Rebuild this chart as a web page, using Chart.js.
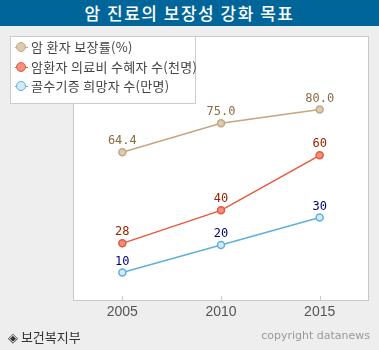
<!DOCTYPE html>
<html>
<head>
<meta charset="utf-8">
<script src="https://cdn.jsdelivr.net/npm/chart.js@4/dist/chart.umd.min.js"></script>
<style>
  body { margin: 0; background: #eeeeee; font-family: "Noto Sans CJK KR", sans-serif; }
  #wrap { position: relative; width: 379px; height: 350px; overflow: hidden; }
  #title { position: absolute; left: 0; top: 0; width: 379px; height: 26px; background: #006699;
           color: #fff; font-size: 17px; font-weight: 500; text-align: center; line-height: 26px; letter-spacing: 1.5px; }
  #chart { position: absolute; left: 0; top: 0; }
  #legend { position: absolute; left: 10px; top: 36px; width: 186px; height: 68px; background: #fff;
            border: 1px solid #cccccc; box-sizing: border-box; }
  .item { position: absolute; left: 0; height: 18px; font-size: 13px; color: #444; line-height: 18px; white-space: nowrap; letter-spacing: 0.3px; }
  .mk { position: absolute; left: 4px; top: 9px; width: 13px; height: 0; border-top: 1px solid; }
  .dot { position: absolute; left: 1px; top: -6px; width: 8px; height: 8px; border-radius: 50%; border: 1.5px solid; }
  .txt { position: absolute; left: 20px; top: 0; }
  #src { position: absolute; left: 8px; top: 327px; font-size: 13px; color: #333; }
  #copy { position: absolute; right: 9px; top: 329px; font-size: 11px; color: #999; font-family: "DejaVu Sans", sans-serif; }
</style>
</head>
<body>
<div id="wrap">
  <canvas id="chart" width="379" height="350"></canvas>
  <div id="title">암 진료의 보장성 강화 목표</div>
  <div id="legend"></div>
  <div id="src">◈ 보건복지부</div>
  <div id="copy">copyright datanews</div>
</div>
<script>
// === Data ===
const years = ['2005', '2010', '2015'];
const seriesNames = ['암 환자 보장률(%)', '암환자 의료비 수혜자 수(천명)', '골수기증 희망자 수(만명)'];
const coverage = [64.4, 75.0, 80.0];
const beneficiaries = [28, 40, 60];
const donors = [10, 20, 30];

// === Styles ===
const lineColors = ['#c4a67f', '#e9583c', '#5fb0dc'];
const fillColors = ['#dccbb3', '#f0907c', '#d4eaf8'];
const labelColors = ['#8a6c45', '#992200', '#000080'];
const axisIds = ['yA', 'yB', 'yC'];
const allData = [coverage, beneficiaries, donors];

// legend (HTML, positioned over the plot like the reference)
const legend = document.getElementById('legend');
seriesNames.forEach((name, i) => {
    const el = document.createElement('div');
    el.className = 'item';
    el.style.top = (1 + i * 19.5) + 'px';
    el.innerHTML = `<span class="mk" style="border-color:${lineColors[i]}"><span class="dot" style="border-color:${lineColors[i]};background:${fillColors[i]}"></span></span><span class="txt">${name}</span>`;
    legend.appendChild(el);
});

// === Plugins ===
const plotFrame = {
    id: 'plotFrame',
    beforeDraw(chart) {
        const { ctx, chartArea: a } = chart;
        ctx.save();
        ctx.fillStyle = '#ffffff';
        ctx.fillRect(a.left, a.top, a.right - a.left, a.bottom - a.top);
        ctx.strokeStyle = '#c8c8c8';
        ctx.lineWidth = 1;
        ctx.strokeRect(a.left + 0.5, a.top + 0.5, a.right - a.left - 1, a.bottom - a.top);
        // small inner ticks at each category
        const xs = chart.scales.x;
        years.forEach((y, i) => {
            const px = Math.round(xs.getPixelForValue(i)) + 0.5;
            ctx.beginPath();
            ctx.moveTo(px, a.bottom - 4);
            ctx.lineTo(px, a.bottom);
            ctx.stroke();
        });
        ctx.restore();
    }
};

const valueLabels = {
    id: 'valueLabels',
    afterDatasetsDraw(chart) {
        const ctx = chart.ctx;
        ctx.save();
        ctx.font = '12px "DejaVu Sans Mono", monospace';
        ctx.textAlign = 'center';
        ctx.textBaseline = 'bottom';
        chart.data.datasets.forEach((ds, di) => {
            chart.getDatasetMeta(di).data.forEach((pt, i) => {
                const v = ds.data[i];
                ctx.fillStyle = labelColors[di];
                ctx.fillText(di === 0 ? v.toFixed(1) : String(v), pt.x, pt.y - 5);
            });
        });
        ctx.restore();
    }
};

// === Chart ===
const hiddenAxis = (min, max) => ({ display: false, min: min, max: max });

new Chart(document.getElementById('chart'), {
    type: 'line',
    data: {
        labels: years,
        datasets: allData.map((d, i) => ({
            label: seriesNames[i],
            data: d,
            yAxisID: axisIds[i],
            borderColor: lineColors[i],
            backgroundColor: fillColors[i],
            pointBackgroundColor: fillColors[i],
            pointBorderColor: lineColors[i],
            borderWidth: 1.5,
            pointRadius: 3.5,
            pointBorderWidth: 1.5,
            tension: 0
        }))
    },
    options: {
        responsive: false,
        animation: false,
        layout: { padding: { left: 73, top: 36, right: 10, bottom: 0 } },
        plugins: { legend: { display: false }, tooltip: { enabled: false } },
        scales: {
            x: {
                offset: true,
                grid: { display: false, drawTicks: false },
                border: { display: false },
                ticks: { color: '#555555', padding: 4, font: { family: '"Liberation Sans Narrow", "Liberation Sans", sans-serif', size: 14 } },
                afterFit(s) { s.height = 50; }
            },
            yA: hiddenAxis(10.7, 106.7),
            yB: hiddenAxis(7.4, 103.4),
            yC: hiddenAxis(0, 96)
        }
    },
    plugins: [plotFrame, valueLabels]
});
</script>
</body>
</html>
